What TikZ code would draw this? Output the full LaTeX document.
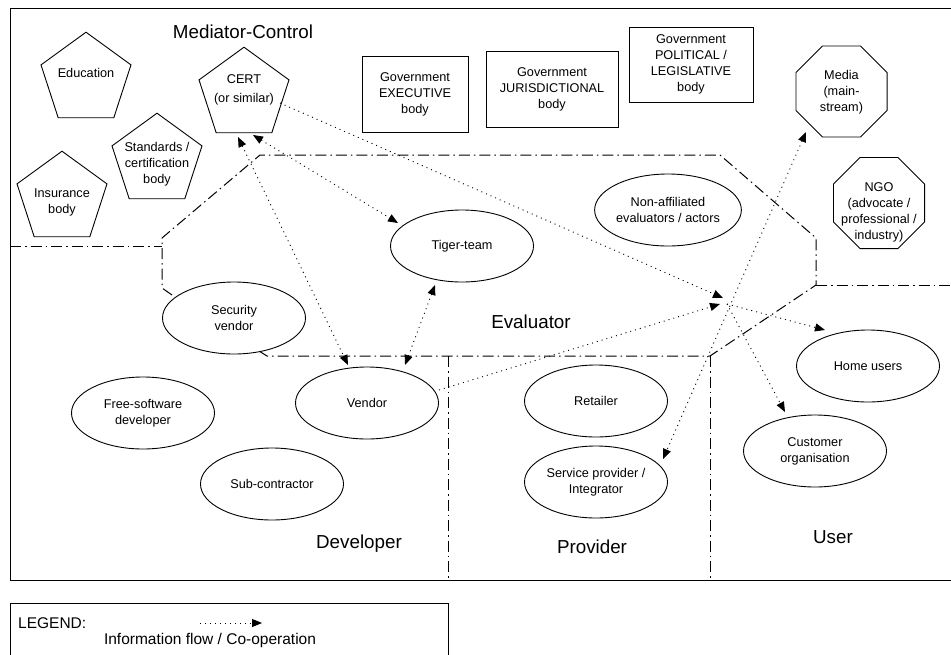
\documentclass[tikz,border=0pt]{standalone}
\usepackage{fontspec}
\setmainfont{Liberation Sans}
\usetikzlibrary{shapes.geometric,arrows.meta}
\tikzset{
 base/.style={font=\fontsize{12.7}{16}\selectfont, align=center},
 pent/.style={draw, line width=0.9pt, regular polygon, regular polygon sides=5, minimum size=94.6pt, inner sep=0pt},
 oct/.style={draw, line width=0.9pt, regular polygon, regular polygon sides=8, minimum size=98.6pt, inner sep=0pt},
 govbox/.style={draw, line width=0.9pt, rectangle, inner sep=0pt, base},
 ell/.style={draw, line width=0.9pt, ellipse, minimum width=143pt, minimum height=72pt, inner sep=0pt, fill=white, base},
 txt/.style={base, inner sep=0pt},
 big/.style={font=\fontsize{18.8}{22}\selectfont, inner sep=0pt},
 zone/.style={dash pattern=on 11pt off 4pt on 1.5pt off 4pt, line width=1pt},
 flow/.style={dash pattern=on 1pt off 4pt, line width=0.9pt, -{Triangle[length=10pt,width=8pt]}},
 flowtwo/.style={dash pattern=on 1pt off 4pt, line width=0.9pt, {Triangle[length=10pt,width=8pt]}-{Triangle[length=10pt,width=8pt]}},
}
\begin{document}
\begin{tikzpicture}[x=1pt,y=-1pt]
\useasboundingbox (0,0) rectangle (951,654);
% frame
\draw[line width=0.9pt] (953,8) -- (10,8) -- (10,580) -- (953,580);
% zone boundaries
\draw[zone] (10,246) -- (162,246);
\draw[zone] (172,295) -- (162,288) -- (162,238) -- (260,155) -- (720,155) -- (816,238) -- (816,285) -- (710,356) -- (267,356) -- (259,351);
\draw[zone] (816,285) -- (953,285);
\draw[zone] (448,356) -- (448,580);
\draw[zone] (710,356) -- (710,580);
% big labels
\node[big] (lmed) at (243,32) {Mediator-Control};
\node[big] (leval) at (531,322) {Evaluator};
\node[big] (ldev) at (359,544) {Developer};
\node[big] (lprov) at (592,547) {Provider};
\node[big] (luser) at (833,537) {User};
% pentagons
\node[pent] (edu) at (86,79.5) {};
\node[txt] (edut) at (86,73) {Education};
\node[pent] (cert) at (244,94.5) {};
\node[txt] (certt) at (244,90) {CERT\\[3pt](or similar)};
\node[pent] (std) at (157,160.5) {};
\node[txt] (stdt) at (157,164) {Standards /\\certification\\body};
\node[pent] (ins) at (62,198.5) {};
\node[txt] (inst) at (62,202) {Insurance\\body};
% government boxes
\node[govbox, minimum width=106pt, minimum height=76pt] (exec) at (415,94) {Government\\EXECUTIVE\\body};
\node[govbox, minimum width=132pt, minimum height=76pt] (juris) at (552,89) {Government\\JURISDICTIONAL\\body};
\node[govbox, minimum width=124pt, minimum height=75pt] (pol) at (691,64.5) {Government\\POLITICAL /\\LEGISLATIVE\\body};
% octagons
\node[oct] (media) at (841.5,91.5) {};
\node[txt] (mediat) at (841.5,92.5) {Media\\(main-\\stream)};
\node[oct] (ngo) at (879,203) {};
\node[txt] (ngot) at (879,212) {NGO\\(advocate /\\professional /\\industry)};
% ellipses
\node[ell] (nonaff) at (668,210) {Non-affiliated\\evaluators / actors};
\node[ell] (tiger) at (462,246) {Tiger-team};
\node[ell] (secv) at (234,318) {Security\\vendor};
\node[ell] (vendor) at (367,403) {Vendor};
\node[ell] (free) at (143,413) {Free-software\\developer};
\node[ell] (sub) at (272,484) {Sub-contractor};
\node[ell] (retail) at (596,401) {Retailer};
\node[ell] (service) at (596,482) {Service provider /\\Integrator};
\node[ell] (home) at (868,366) {Home users};
\node[ell] (cust) at (815,451) {Customer\\organisation};
% hub
\coordinate (hub) at (725,301);
% flows
\draw[flowtwo] ([shift={(9,40.5)}]cert.center) -- ([shift={(-64,-23)}]tiger.center);
\draw[flowtwo] ([shift={(-6,42.5)}]cert.center) -- ([shift={(-19,-38)}]vendor.center);
\draw[flowtwo] ([shift={(-27,39)}]tiger.center) -- ([shift={(38,-38)}]vendor.center);
\draw[flow] ([shift={(36,8.5)}]cert.center) -- ([shift={(-2,-3)}]hub);
\draw[flow] ([shift={(72,-13)}]vendor.center) -- ([shift={(-5,3)}]hub);
\draw[flowtwo] ([shift={(-35.5,40.5)}]media.center) -- ([shift={(67,-23)}]service.center);
\draw[flow] ([shift={(2,3)}]hub) -- ([shift={(-43,-36)}]home.center);
\draw[flow] ([shift={(2,3)}]hub) -- ([shift={(-30,-39)}]cust.center);
% legend
\draw[line width=0.9pt] (10,660) -- (10,603) -- (448,603) -- (448,660);
\node[font=\fontsize{15.5}{18}\selectfont, inner sep=0pt, anchor=west] (leg) at (18,623) {LEGEND:};
\coordinate (la) at (200,623);
\coordinate (lb) at (262,623);
\draw[flow] (la) -- (lb);
\node[font=\fontsize{15.5}{18}\selectfont, inner sep=0pt] (legt) at (210,640) {Information flow / Co-operation};
\end{tikzpicture}
\end{document}
